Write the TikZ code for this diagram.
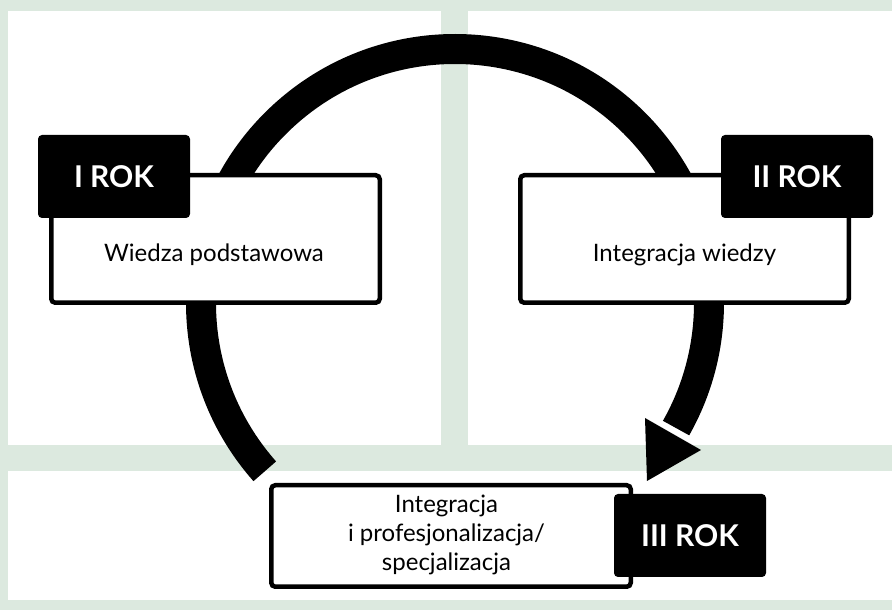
\documentclass[tikz,border=0pt]{standalone}
\usepackage{fontspec}
\setmainfont{Lato}
\definecolor{bgGreen}{RGB}{220,233,223}
\begin{document}
\begin{tikzpicture}[x=1pt,y=1pt,
  panel/.style={fill=white,draw=none},
  stagebox/.style={draw=black,fill=white,line width=4.5pt,rounded corners=4pt,inner sep=0pt},
  yearbox/.style={fill=black,draw=none,rounded corners=4pt,text=white,
    font=\fontsize{30}{36}\selectfont\bfseries,inner sep=0pt,
    minimum width=152pt,minimum height=83pt},
  bodytext/.style={font=\fontsize{24}{29}\selectfont,inner sep=0pt,align=center},
  ringline/.style={line width=30pt,draw=black},
  headtri/.style={fill=black,draw=none}
]
\useasboundingbox (0,0) rectangle (892,610);
\fill[bgGreen] (0,0) rectangle (892,610);
% panels
\fill[panel] (8,165) rectangle (441,599);
\fill[panel] (468,165) rectangle (892,599);
\fill[panel] (8,10) rectangle (892,139);
% ring
\coordinate (ctr) at (455,307);
\coordinate (ringstart) at ([shift={(221.5:254pt)}]ctr);
\draw[ringline] (ringstart) arc[start angle=221.5,end angle=-29.5,radius=254pt];
\coordinate (ha) at (645,192);
\coordinate (hb) at (701,160);
\coordinate (hc) at (647,129);
\fill[headtri] (ha) -- (hb) -- (hc) -- cycle;
% stage boxes
\node[stagebox,minimum width=328.5pt,minimum height=127.5pt] (b1) at (215.5,371) {};
\node[stagebox,minimum width=328.5pt,minimum height=127.5pt] (b2) at (684.5,371) {};
\node[stagebox,minimum width=359.5pt,minimum height=101.5pt] (b3) at (451,74) {};
% year labels
\node[yearbox] (y1) at (114,433.5) {I ROK};
\node[yearbox] (y2) at (797,433.5) {II ROK};
\node[yearbox] (y3) at (690,74.5) {III ROK};
% texts
\node[bodytext,anchor=base] (t1) at (214,348) {Wiedza podstawowa};
\node[bodytext,anchor=base] (t2) at (684.5,348.5) {Integracja wiedzy};
\node[bodytext,anchor=base] (t3) at (446.5,39) {Integracja\\i profesjonalizacja/\\specjalizacja};
\end{tikzpicture}
\end{document}
